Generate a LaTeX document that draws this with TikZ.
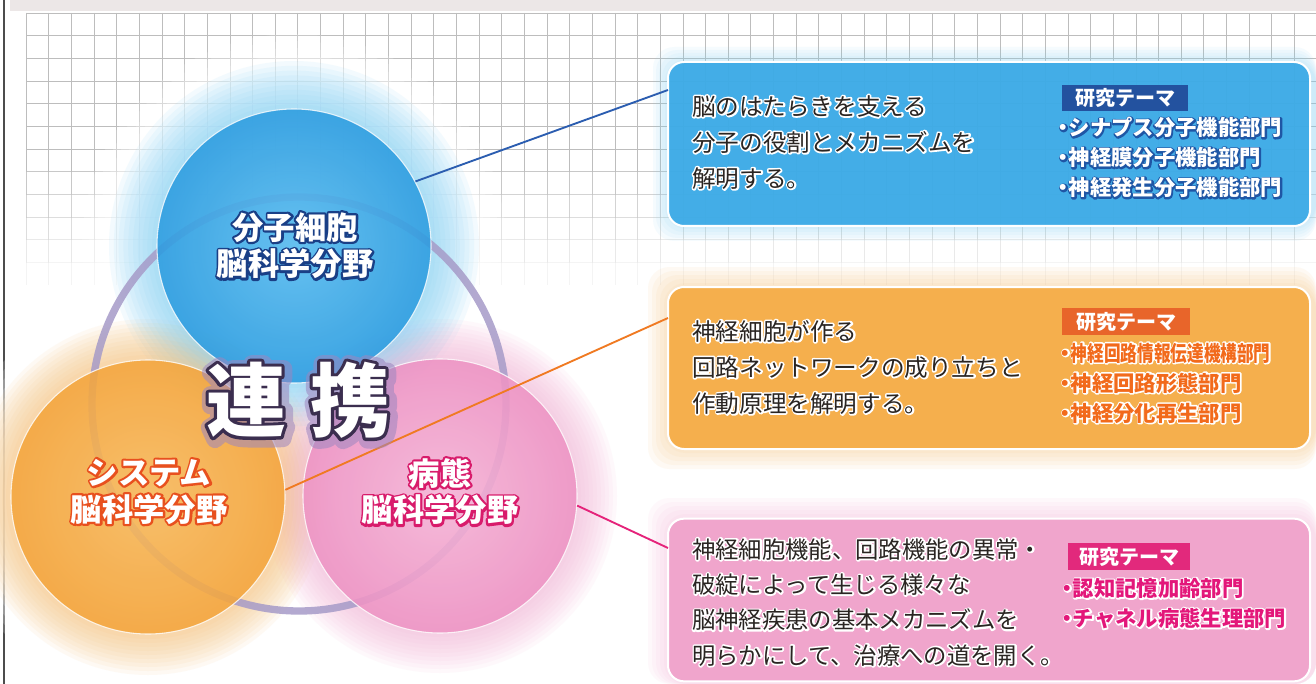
\documentclass[tikz,border=0pt]{standalone}
\usepackage{fontspec}
\setmainfont{Noto Sans CJK JP}
\newfontfamily\haloA[FakeBold=14]{Noto Sans CJK JP}
\newfontfamily\haloB[FakeBold=8]{Noto Sans CJK JP}
\newfontfamily\haloC[FakeBold=22]{Noto Sans CJK JP}
\usepackage{graphicx}
\definecolor{gridc}{HTML}{BDBDBD}
\definecolor{topband}{HTML}{ECE7E7}
\definecolor{txtdark}{HTML}{2A2522}
\definecolor{boxb}{HTML}{3BAAE6}
\definecolor{boxo}{HTML}{F5AC46}
\definecolor{boxp}{HTML}{F0A2CB}
\definecolor{glowb}{HTML}{7FCFF5}
\definecolor{glowo}{HTML}{F8BE72}
\definecolor{glowp}{HTML}{F3B2D5}
\definecolor{cbin}{HTML}{5DBDF0}
\definecolor{cbout}{HTML}{2C9CE0}
\definecolor{coin}{HTML}{F7BC62}
\definecolor{coout}{HTML}{F4A53C}
\definecolor{cpin}{HTML}{F5B8D8}
\definecolor{cpout}{HTML}{EE93C4}
\definecolor{ringc}{HTML}{A69BC8}
\definecolor{lineb}{HTML}{2B5DB0}
\definecolor{lineo}{HTML}{F07A22}
\definecolor{linep}{HTML}{E5237A}
\definecolor{lblb}{HTML}{23529F}
\definecolor{lblo}{HTML}{E8652A}
\definecolor{lblp}{HTML}{E2297C}
\definecolor{itemb}{HTML}{1F56A5}
\definecolor{itemo}{HTML}{F26A1B}
\definecolor{itemp}{HTML}{E3177A}
\definecolor{navy}{HTML}{1A3F86}
\definecolor{redorange}{HTML}{E8501E}
\definecolor{magenta2}{HTML}{D81B6B}
\definecolor{darkpurple}{HTML}{3B2E4F}
\definecolor{glowpurple}{HTML}{9C86C0}
\newcommand\dt{\makebox[0.5em][c]{・}}
\newcommand\rj{\special{pdf:code 1 j 1 J}}
% halo: #1 colour, #2 halo font switch, #3 body
\newcommand\halotext[3]{\rj\makebox[0pt][l]{\color{#1}#2#3}#3}
\newcommand\lines[1]{\begin{tabular}{@{}l@{}}#1\end{tabular}}
\newcommand\clines[1]{\begin{tabular}{@{}c@{}}#1\end{tabular}}
\begin{document}
\begin{tikzpicture}[x=0.75pt,y=-0.75pt,
  boxtext/.style={anchor=west, inner sep=0pt, text=txtdark, font=\fontsize{17.7}{27}\selectfont},
  itemtext/.style={anchor=west, inner sep=0pt, font=\bfseries\fontsize{16}{22.5}\selectfont},
  lbltag/.style={inner sep=0pt, text=white, font=\bfseries\fontsize{15}{18}\selectfont, minimum height=20pt},
  clabel/.style={inner sep=0pt, text=white, font=\bfseries\fontsize{23.5}{24.75}\selectfont},
  bigcirc/.style={circle, inner sep=0pt, minimum size=205.5pt, draw=white, line width=0.8pt, fill opacity=0.88, draw opacity=0.8},
  infobox/.style={rounded corners=12pt, draw=white, line width=1.5pt, minimum width=481.5pt, fill opacity=0.94},
  conn/.style={line width=1.4pt}]
\useasboundingbox (0,0) rectangle (1316,684);
\fill[white] (0,0) rectangle (1316,684);
% top band and left border
\fill[topband] (10,0) rectangle (1316,11);
\draw[black!70, line width=1.5pt] (4,0) -- (4,684);
% grid
\foreach \r in {0,...,11} {
  \pgfmathsetmacro\op{\r<7 ? 1 : (12-\r)/6}
  \pgfmathsetmacro\ya{13+22.65*\r}
  \draw[gridc, line width=0.5pt, opacity=\op] (26,\ya) -- (1316,\ya);
  \draw[gridc, line width=0.5pt, opacity=\op] \foreach \c in {0,...,56} {({26+22.65*\c},\ya) -- ++(0,22.65)};
}
% white underlays around circles
\foreach \k in {0,...,9} {
  \fill[white, opacity=0.18] (294,246) circle ({137+75-7*\k});
  \fill[white, opacity=0.18] (148,497) circle ({138+60-6*\k});
  \fill[white, opacity=0.18] (440,496) circle ({137+60-6*\k});
}
\fill[white, opacity=0.6] (299,404) circle (215);
% coloured glows
\foreach \k in {0,...,9} {
  \fill[glowb, opacity=0.09] (294,246) circle ({137+48-4.8*\k});
  \fill[glowo, opacity=0.08] (148,497) circle ({138+40-4*\k});
  \fill[glowp, opacity=0.08] (440,496) circle ({137+40-4*\k});
}
% box glows
\foreach \k in {0,...,5} {
  \fill[glowb, opacity=0.07, rounded corners=16pt] ({668-3*\k},{62-3*\k}) rectangle ({1316},{226+3*\k});
  \fill[glowo, opacity=0.08, rounded corners=16pt] ({668-4*\k},{287-4*\k}) rectangle ({1316},{449+4*\k});
  \fill[glowp, opacity=0.08, rounded corners=16pt] ({668-4*\k},{518-4*\k}) rectangle ({1316},{684});
}
% ring
\draw[ringc, line width=5.5pt, opacity=0.85] (299,404) circle (207);
% circles
\node[bigcirc, inner color=cbin, outer color=cbout] (bcirc) at (294,246) {};
\node[bigcirc, inner color=coin, outer color=coout] (ocirc) at (148,497) {};
\node[bigcirc, inner color=cpin, outer color=cpout] (pcirc) at (440,496) {};
% boxes
\node[infobox, fill=boxb, minimum height=123pt] (bbox) at (989,144) {};
\node[infobox, fill=boxo, minimum height=121.5pt] (obox) at (989,368) {};
\node[infobox, fill=boxp, minimum height=122pt] (pbox) at (989,600) {};
% connectors
\coordinate (cb) at (668,90);
\coordinate (co) at (668,318);
\coordinate (cp) at (668,548);
\draw[conn, lineb] (bcirc.28) -- (cb);
\draw[conn, lineo] (ocirc.3) -- (co);
\draw[conn, linep] (pcirc.-4.6) -- (cp);
% circle labels
\node[clabel] (lb) at (295,249) {\halotext{navy}{\haloA}{\clines{分子細胞\\脳科学分野}}};
\node[clabel] (lo) at (149,495) {\halotext{redorange}{\haloA}{\clines{システム\\脳科学分野}}};
\node[clabel] (lp) at (440,495) {\halotext{magenta2}{\haloA}{\clines{病態\\脳科学分野}}};
% central text
\node[inner sep=0pt, text=glowpurple, opacity=0.55, font=\bfseries\fontsize{60}{64}\selectfont\haloC] (renkeiglow) at (300,402) {\rj 連\hspace{18pt}携};
\node[inner sep=0pt, text=white, font=\bfseries\fontsize{60}{64}\selectfont] (renkei) at (298,400) {\halotext{darkpurple}{\haloB}{連\hspace{18pt}携}};
% box texts
\node[boxtext] (tb) at (692,144) {\halotext{white}{\haloA}{\lines{脳のはたらきを支える\\分子の役割とメカニズムを\\解明する。}}};
\node[boxtext] (to) at (692,369) {\halotext{white}{\haloA}{\lines{神経細胞が作る\\回路ネットワークの成り立ちと\\作動原理を解明する。}}};
\node[boxtext, font=\fontsize{17.5}{26.5}\selectfont] (tp) at (692,604) {\halotext{white}{\haloA}{\lines{神経細胞機能、回路機能の異常・\\破綻によって生じる様々な\\脳神経疾患の基本メカニズムを\\明らかにして、治療への道を開く。}}};
% labels
\node[lbltag, fill=lblb, minimum width=94.5pt] (kb) at (1125,98) {研究テーマ};
\node[lbltag, fill=lblo, minimum width=96pt] (ko) at (1126,321.5) {研究テーマ};
\node[lbltag, fill=lblp, minimum width=91.5pt] (kp) at (1129,556.5) {研究テーマ};
% items
\node[itemtext, text=white] (ib) at (1058,160) {\halotext{itemb}{\haloA}{\lines{\dt シナプス分子機能部門\\\dt 神経膜分子機能部門\\\dt 神経発生分子機能部門}}};
\node[itemtext, text=itemo] (io) at (1060,385) {\halotext{white}{\haloA}{\lines{\dt\scalebox{0.78}[1]{神経回路情報伝達機構部門}\\\dt 神経回路形態部門\\\dt 神経分化再生部門}}};
\node[itemtext, text=itemp] (ip) at (1062,605.5) {\halotext{white}{\haloA}{\lines{\dt 認知記憶加齢部門\\\dt チャネル病態生理部門}}};
\end{tikzpicture}
\end{document}
